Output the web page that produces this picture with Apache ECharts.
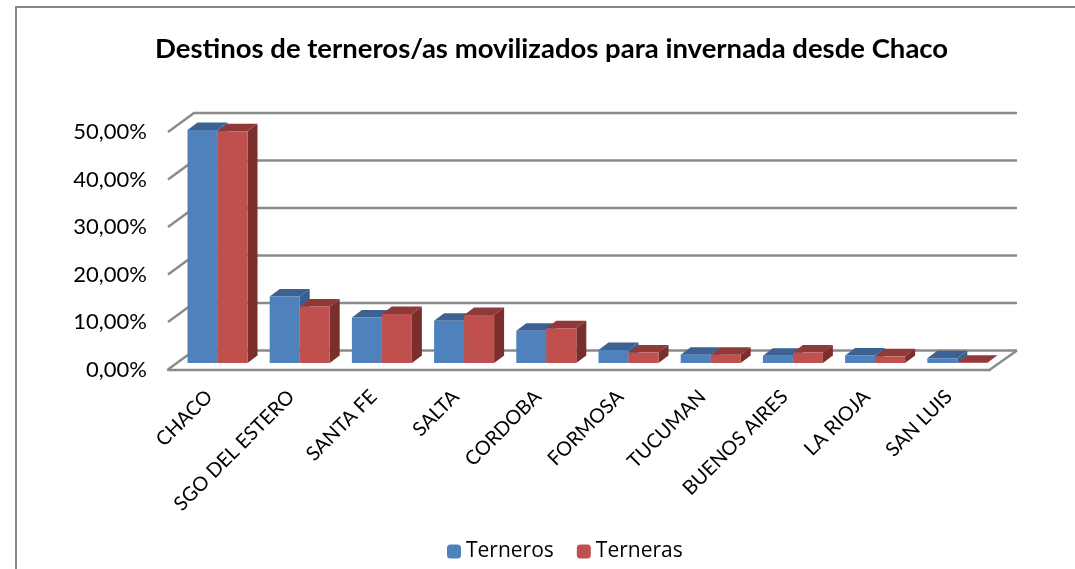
<!DOCTYPE html>
<html>
<head>
<meta charset="utf-8">
<style>
  html, body { margin: 0; padding: 0; background: #fff; }
  #main { width: 1075px; height: 569px; }
</style>
<script src="https://cdn.jsdelivr.net/npm/echarts@6/dist/echarts.min.js"></script>
</head>
<body>
<div id="main"></div>
<script>
var categories = ['CHACO', 'SGO DEL ESTERO', 'SANTA FE', 'SALTA', 'CORDOBA', 'FORMOSA', 'TUCUMAN', 'BUENOS AIRES', 'LA RIOJA', 'SAN LUIS'];
var terneros = [49.05, 14.0, 9.6, 8.9, 6.8, 2.75, 1.75, 1.55, 1.6, 1.0];
var terneras = [48.8, 11.9, 10.3, 10.1, 7.3, 2.2, 1.75, 2.2, 1.4, 0.05];
var yTicks = [0, 10, 20, 30, 40, 50];

var gridColor = '#8a8a8a';

// faces of one 3d bar, side: -1 left bar of the pair, 0 right bar
function barItem(colors, side) {
  return function (params, api) {
    var p = api.coord([api.value(0), api.value(1)]);
    var base = api.coord([api.value(0), 0]);
    var x0 = p[0] + 8.4 + side * 30;
    var x1 = x0 + 30;
    var yTop = p[1] - 6.5;
    var yBase = base[1] - 6.5;
    var dx = 10, dy = 7.5;
    return {
      type: 'group',
      children: [
        { type: 'polygon', shape: { points: [[x0, yTop], [x1, yTop], [x1 + dx, yTop - dy], [x0 + dx, yTop - dy]] }, style: { fill: colors[1] } },
        { type: 'polygon', shape: { points: [[x1, yTop], [x1 + dx, yTop - dy], [x1 + dx, yBase - dy], [x1, yBase]] }, style: { fill: colors[2] } },
        { type: 'rect', shape: { x: x0, y: yTop, width: 30, height: yBase - yTop }, style: { fill: colors[0] } }
      ]
    };
  };
}

// back wall gridline with its diagonal on the side wall
function wallItem(params, api) {
  var y = api.coord([0, api.value(1)])[1];
  var left = params.coordSys.x;
  var right = left + params.coordSys.width;
  var children = [{
    type: 'polyline',
    shape: { points: [[left, y], [left + 26, y - 19], [right + 27, y - 19]] },
    style: { stroke: gridColor, lineWidth: 2.4, fill: null }
  }];
  if (api.value(1) === 0) {
    children.push({
      type: 'line',
      shape: { x1: right, y1: y, x2: right + 27, y2: y - 19 },
      style: { stroke: gridColor, lineWidth: 2.4 }
    });
  }
  return { type: 'group', children: children };
}

function pairs(values) {
  return values.map(function (v, i) { return [i, v]; });
}

var chart = echarts.init(document.getElementById('main'), null, { renderer: 'canvas' });

chart.setOption({
  animation: false,
  backgroundColor: '#fff',
  title: {
    text: 'Destinos de terneros/as movilizados para invernada desde Chaco',
    left: 150,
    top: 30,
    textStyle: { fontFamily: 'Lato', fontWeight: 'bold', fontSize: 27.5, color: '#000' }
  },
  legend: {
    left: 442,
    top: 536,
    data: ['Terneros', 'Terneras'],
    itemWidth: 14,
    itemHeight: 14,
    itemGap: 23,
    textStyle: { fontFamily: 'Open Sans', fontSize: 21, color: '#000' }
  },
  grid: { left: 168, top: 132, width: 822, height: 237.5 },
  xAxis: {
    type: 'category',
    data: categories,
    axisTick: { show: false },
    axisLine: { show: true, lineStyle: { color: gridColor, width: 2.4 } },
    axisLabel: {
      rotate: 45,
      interval: 0,
      margin: 24,
      color: '#000',
      fontFamily: 'Lato',
      fontSize: 19.8
    }
  },
  yAxis: {
    type: 'value',
    min: 0,
    max: 50,
    interval: 10,
    axisLine: { show: false },
    axisTick: { show: false },
    splitLine: { show: false },
    axisLabel: {
      margin: 21,
      color: '#000',
      fontFamily: 'Lato',
      fontSize: 22,
      formatter: function (v) { return v.toFixed(2).replace('.', ',') + '%'; }
    }
  },
  graphic: [
    { type: 'polyline', silent: true, shape: { points: [[16, 569], [16, 7], [1075, 7]] }, style: { stroke: '#868686', lineWidth: 2, fill: null } }
  ],
  series: [
    {
      name: 'walls',
      type: 'custom',
      renderItem: wallItem,
      clip: false,
      data: yTicks.map(function (v) { return [0, v]; }),
      silent: true,
      z: 1
    },
    {
      name: 'Terneros',
      type: 'custom',
      renderItem: barItem(['#4f81bd', '#3b6290', '#365f8f'], -1),
      clip: false,
      itemStyle: { color: '#4f81bd' },
      data: pairs(terneros),
      z: 2
    },
    {
      name: 'Terneras',
      type: 'custom',
      renderItem: barItem(['#c0504d', '#8f3a38', '#7b2f2d'], 0),
      clip: false,
      itemStyle: { color: '#c0504d' },
      data: pairs(terneras),
      z: 3
    }
  ]
});
</script>
</body>
</html>
